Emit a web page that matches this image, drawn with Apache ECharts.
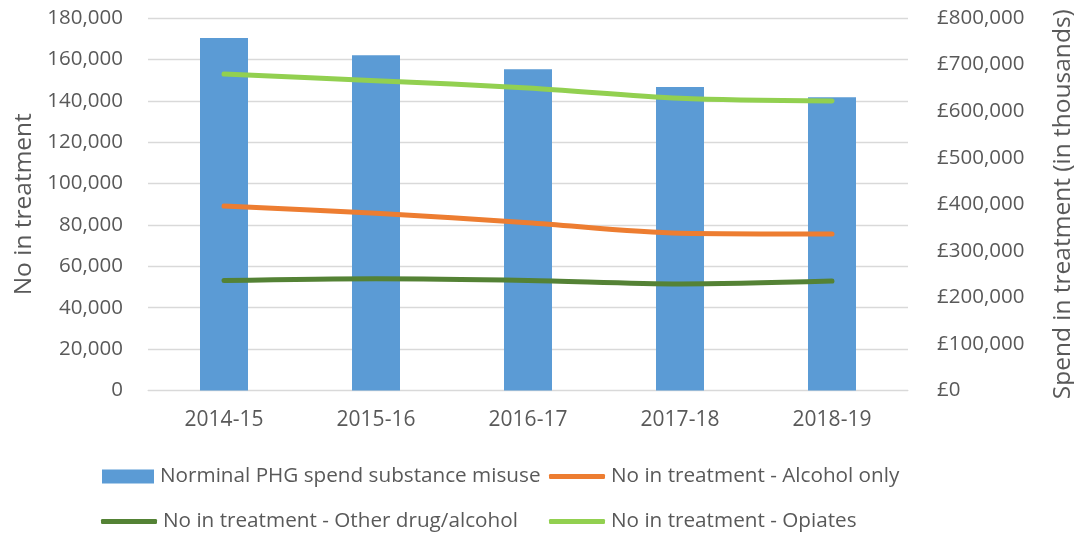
<!DOCTYPE html>
<html>
<head>
<meta charset="utf-8">
<script src="https://cdn.jsdelivr.net/npm/echarts@6/dist/echarts.min.js"></script>
<style>html,body{margin:0;padding:0;background:#fff}#c{width:1074px;height:534px}</style>
</head>
<body>
<div id="c"></div>
<script>
const categories = ['2014-15', '2015-16', '2016-17', '2017-18', '2018-19'];
const spend = [757000, 720000, 690000, 652000, 630000];
const alcohol = [89100, 85600, 81100, 76000, 75600];
const otherDrug = [53100, 54000, 53200, 51500, 52900];
const opiates = [152900, 149700, 146200, 141200, 139900];
const names = ['Norminal PHG spend substance misuse', 'No in treatment - Alcohol only', 'No in treatment - Other drug/alcohol', 'No in treatment - Opiates'];
const colors = ['#5B9BD5', '#ED7D31', '#548235', '#92D050'];

const font = '"Open Sans", sans-serif';
const txt = '#595959';
const chart = echarts.init(document.getElementById('c'));
function leg(i, left, top, icon, w, h) {
  return {
    data: [names[i]], left: left, top: top, icon: icon, itemWidth: w, itemHeight: h,
    itemGap: 0, padding: 0, textStyle: { fontFamily: font, fontSize: 20.7, color: txt, padding: [0, 0, 0, 1] }
  };
}
chart.setOption({
  animation: false,
  color: colors,
  grid: { left: 148, right: 166, top: 18, bottom: 143.5, outerBoundsMode: 'none', containLabel: false },
  legend: [
    leg(0, 102, 466, 'rect', 52, 14),
    leg(1, 549, 466, 'roundRect', 56, 5),
    leg(2, 101, 511, 'roundRect', 56, 5),
    leg(3, 549, 511, 'roundRect', 56, 5)
  ],
  xAxis: {
    type: 'category', data: categories,
    axisLine: { lineStyle: { color: '#D9D9D9' } },
    axisTick: { show: false },
    axisLabel: { fontFamily: font, fontSize: 21, color: txt, margin: 19 }
  },
  yAxis: [{
    type: 'value', min: 0, max: 180000, interval: 20000,
    name: 'No in treatment', nameLocation: 'middle', nameGap: 111,
    nameTextStyle: { fontFamily: font, fontSize: 24.5, color: txt },
    axisLabel: { fontFamily: font, fontSize: 20.5, color: txt, margin: 25,
      formatter: v => v.toLocaleString('en-US') },
    splitLine: { lineStyle: { color: '#D9D9D9', width: 1.3 } },
    axisLine: { show: false }, axisTick: { show: false }
  }, {
    type: 'value', min: 0, max: 800000, interval: 100000, position: 'right',
    name: 'Spend in treatment (in thousands)', nameLocation: 'middle', nameGap: 143,
    nameRotate: 90,
    nameTextStyle: { fontFamily: font, fontSize: 24.5, color: txt },
    axisLabel: { fontFamily: font, fontSize: 20.5, color: txt, margin: 29,
      formatter: v => '£' + v.toLocaleString('en-US') },
    splitLine: { show: false },
    axisLine: { show: false }, axisTick: { show: false }
  }],
  series: [
    { name: names[0], type: 'bar', yAxisIndex: 1, data: spend, barWidth: 48,
      itemStyle: { color: colors[0] } },
    { name: names[1], type: 'line', yAxisIndex: 0, data: alcohol, smooth: 0.3, showSymbol: false,
      lineStyle: { width: 5, color: colors[1], cap: 'round' }, itemStyle: { color: colors[1] } },
    { name: names[2], type: 'line', yAxisIndex: 0, data: otherDrug, smooth: 0.3, showSymbol: false,
      lineStyle: { width: 5, color: colors[2], cap: 'round' }, itemStyle: { color: colors[2] } },
    { name: names[3], type: 'line', yAxisIndex: 0, data: opiates, smooth: 0.3, showSymbol: false,
      lineStyle: { width: 5, color: colors[3], cap: 'round' }, itemStyle: { color: colors[3] } }
  ]
});
</script>
</body>
</html>
